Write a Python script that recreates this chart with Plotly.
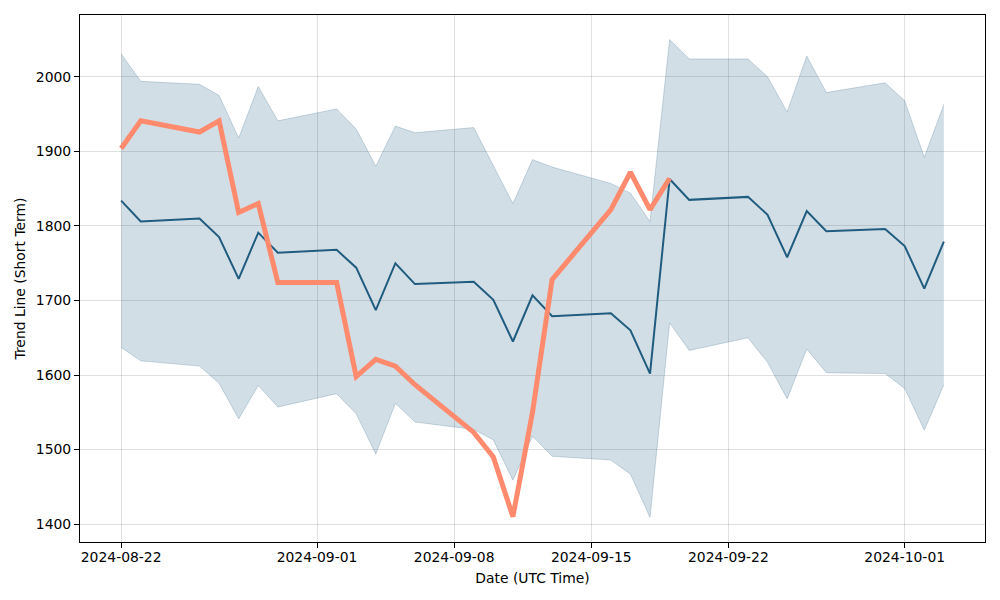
import pandas as pd
import plotly.graph_objects as go

# ---------- Data ----------

dates = pd.bdate_range("2024-08-22", "2024-10-03")

trend_mean = [1834, 1806, 1810, 1785, 1729, 1791, 1764, 1768, 1744, 1687,
              1750, 1722, 1725, 1701, 1645, 1707, 1679, 1683, 1660, 1602,
              1863, 1835, 1839, 1815, 1758, 1820, 1793, 1796, 1773, 1716, 1779]

band_upper = [2031, 1994, 1990, 1975, 1918, 1987, 1941, 1957, 1930, 1880,
              1934, 1925, 1932, 1882, 1830, 1889, 1879, 1857, 1844, 1806,
              2050, 2024, 2024, 2000, 1953, 2028, 1979, 1992, 1968, 1892, 1963]

band_lower = [1637, 1619, 1612, 1589, 1541, 1586, 1557, 1575, 1548, 1494,
              1562, 1537, 1527, 1513, 1459, 1518, 1491, 1486, 1467, 1409,
              1670, 1633, 1650, 1617, 1568, 1635, 1603, 1602, 1582, 1526, 1587]

actual = [1904, 1941, 1926, 1941, 1818, 1830, 1724, 1724, 1598, 1621,
          1612, 1587, 1523, 1490, 1410, 1550, 1728, 1822, 1872, 1822, 1864]
actual_dates = dates[:len(actual)]

x_ticks = ["2024-08-22", "2024-09-01", "2024-09-08", "2024-09-15", "2024-09-22", "2024-10-01"]
y_ticks = [1400, 1500, 1600, 1700, 1800, 1900, 2000]

# ---------- Styles ----------
DARK = "#1f5c7f"
BAND_FILL = "rgba(31,92,127,0.2)"
BAND_EDGE = "rgba(31,92,127,0.22)"
ORANGE = "#ff8a6e"
FONT = "DejaVu Sans"
FS = 13.9

fig = go.Figure()

fig.add_trace(go.Scatter(x=dates, y=band_upper, mode="lines",
                         line=dict(color=BAND_EDGE, width=1), showlegend=False))
fig.add_trace(go.Scatter(x=dates, y=band_lower, mode="lines", fill="tonexty",
                         fillcolor=BAND_FILL,
                         line=dict(color=BAND_EDGE, width=1), showlegend=False))
fig.add_trace(go.Scatter(x=dates, y=trend_mean, mode="lines",
                         line=dict(color=DARK, width=2), showlegend=False))
fig.add_trace(go.Scatter(x=actual_dates, y=actual, mode="lines",
                         line=dict(color=ORANGE, width=5), showlegend=False))

axis_common = dict(
    showline=True, linecolor="black", linewidth=1, mirror=True,
    ticks="outside", ticklen=5, tickcolor="black", tickwidth=1,
    showgrid=True, gridcolor="rgba(0,0,0,0.12)", gridwidth=1,
    zeroline=False, tickfont=dict(family=FONT, size=FS, color="black"),
)

fig.update_xaxes(
    **axis_common,
    type="date",
    range=["2024-08-19 21:36", "2024-10-05 02:24"],
    tickvals=x_ticks, ticktext=x_ticks,
    ticklabelstandoff=-3,
    title=dict(text="Date (UTC Time)", font=dict(family=FONT, size=FS, color="black"), standoff=9),
)
fig.update_yaxes(
    **axis_common,
    range=[1376, 2083],
    tickvals=y_ticks,
    title=dict(text="Trend Line (Short Term)", font=dict(family=FONT, size=FS, color="black"), standoff=6),
)

fig.update_layout(
    width=1000, height=600,
    margin=dict(l=80, r=15, t=15, b=58),
    plot_bgcolor="white", paper_bgcolor="white",
    font=dict(family=FONT, size=FS, color="black"),
)

# drop the browser's default body margin so the figure sits at the page origin
fig.write_html("out.html", config={"displayModeBar": False},
               post_script="document.body.style.margin='0';")
